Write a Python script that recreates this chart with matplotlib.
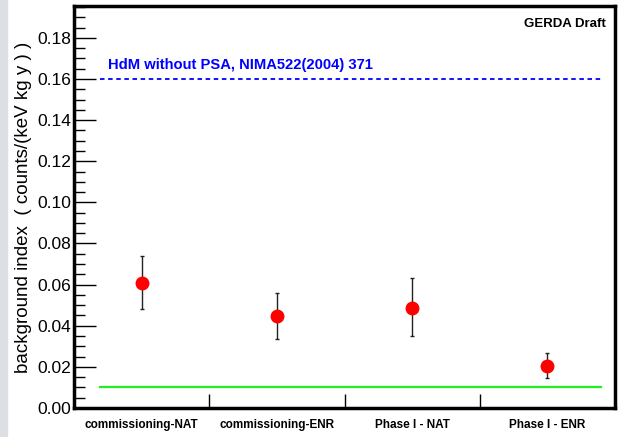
import matplotlib.pyplot as plt
import numpy as np
from matplotlib.ticker import MultipleLocator

plt.rcParams['font.family'] = ['Liberation Sans', 'DejaVu Sans']

categories = ["commissioning-NAT", "commissioning-ENR", "Phase I - NAT", "Phase I - ENR"]
bi = [0.061, 0.0447, 0.0487, 0.0205]
err_lo = [0.013, 0.011, 0.0137, 0.0058]
err_hi = [0.013, 0.011, 0.0143, 0.0063]
hdm_level = 0.16
goal_level = 0.01

fig = plt.figure(figsize=(6.21, 4.37), dpi=100)
fig.patch.set_facecolor("white")
# grey strip on the left edge of the canvas
fig.patches.append(plt.Rectangle((0, 0), 7 / 621, 1, transform=fig.transFigure,
                                 color="#dcdfe3", zorder=0))

ax = fig.add_axes([74 / 621, 1 - 408 / 437, (615 - 74) / 621, (408 - 6) / 437])

x = np.arange(len(categories)) + 0.5
ax.errorbar(x, bi, yerr=[err_lo, err_hi], fmt="o", color="red", markersize=9,
            ecolor="#222222", elinewidth=1.0, capsize=1.5, capthick=1.0, zorder=3)

ax.plot([0.19, 3.9], [hdm_level, hdm_level], color="blue", linestyle=(0, (2.5, 2)), lw=1.3)
ax.plot([0.19, 3.9], [goal_level, goal_level], color="#22ee22", lw=1.6)

ax.text(0.25, 0.1668, "HdM without PSA, NIMA522(2004) 371", color="blue",
        fontsize=10.6, fontweight="bold", ha="left", va="center")
ax.text(3.93, 0.1867, "GERDA Draft", fontsize=9.5, fontweight="bold",
        ha="right", va="center")

ax.set_xlim(0, 4)
ax.set_ylim(0, 0.1955)
ax.set_xticks([1, 2, 3])
ax.set_xticklabels([])
ax.tick_params(axis="x", direction="in", length=10, width=1)
for xi, lab in zip(x, categories):
    ax.text(xi, -0.0083, lab, fontsize=8.5, fontweight="bold", ha="center", va="center")

ax.yaxis.set_major_locator(MultipleLocator(0.02))
ax.yaxis.set_minor_locator(MultipleLocator(0.005))
ax.yaxis.set_major_formatter(plt.FuncFormatter(lambda v, p: f"{v:.2f}"))
ax.tick_params(axis="y", which="major", direction="in", length=16, width=1, labelsize=12.5, pad=2)
ax.tick_params(axis="y", which="minor", direction="in", length=8, width=1)
ax.set_ylabel("background index  ( counts/(keV kg y ) )", fontsize=13.5, labelpad=4)

for s in ax.spines.values():
    s.set_linewidth(2.5)

fig.savefig("out.png", dpi=100)
